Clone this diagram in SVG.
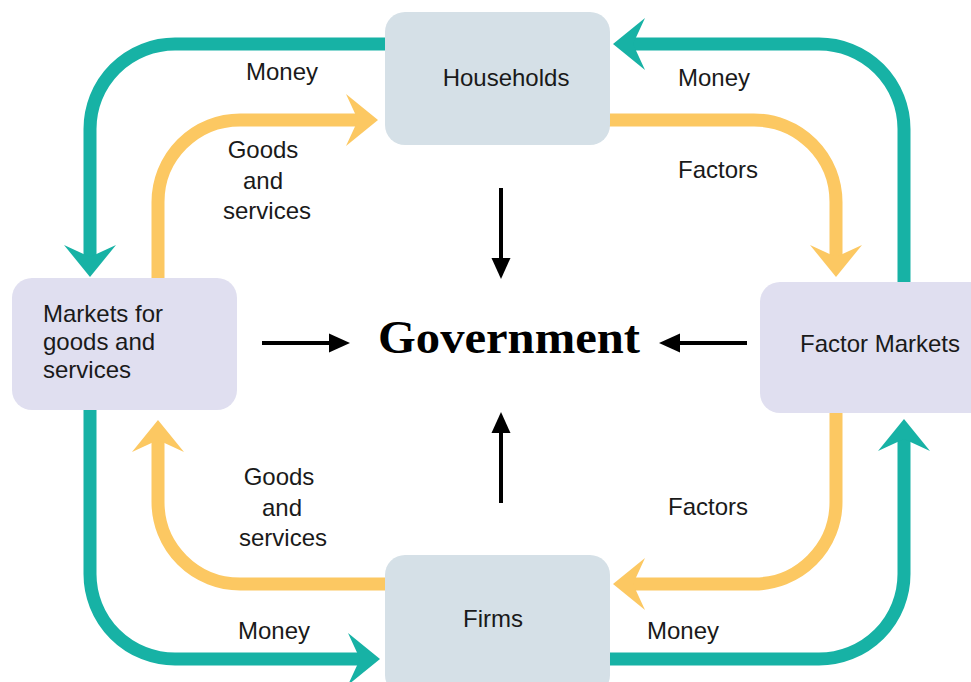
<svg xmlns="http://www.w3.org/2000/svg" width="971" height="682" viewBox="0 0 971 682">
<style>
.bg{fill:#ffffff}
.hh{fill:#d5e0e7}
.mk{fill:#e0dff0}
.lbl{font-family:"Liberation Sans",Arial,sans-serif;font-size:24px;fill:#1a1a1a}
.mid{text-anchor:middle}
.teal{fill:none;stroke:#17b2a5;stroke-width:13}
.yel{fill:none;stroke:#fcc862;stroke-width:13}
.blk{fill:none;stroke:#000;stroke-width:4}
.gov{font-family:"Liberation Serif","Times New Roman",serif;font-size:46px;font-weight:bold;fill:#000}
</style>
<defs>
<marker id="ht" markerUnits="userSpaceOnUse" markerWidth="40" markerHeight="60" refX="14" refY="30" orient="auto" overflow="visible">
<path d="M34,30 L2,4 L14,30 L2,56 Z" fill="#17b2a5"/>
</marker>
<marker id="hy" markerUnits="userSpaceOnUse" markerWidth="40" markerHeight="60" refX="14" refY="30" orient="auto" overflow="visible">
<path d="M34,30 L2,4 L14,30 L2,56 Z" fill="#fcc862"/>
</marker>
<marker id="hb" markerUnits="userSpaceOnUse" markerWidth="22" markerHeight="22" refX="2" refY="10" orient="auto" overflow="visible">
<path d="M21,10 L0,0.5 L0,19.5 Z" fill="#000"/>
</marker>
</defs>
<rect class="bg" x="0" y="0" width="971" height="682"/>
<g id="connectors">
<path class="teal" d="M390,44 H175 A85,85 0 0 0 90,129 V257" marker-end="url(#ht)"/>
<path class="teal" d="M904,287 V129 A85,85 0 0 0 819,44 H633" marker-end="url(#ht)"/>
<path class="teal" d="M90,406 V574 A85,85 0 0 0 175,659 H360" marker-end="url(#ht)"/>
<path class="teal" d="M604,659 H819 A85,85 0 0 0 904,574 V439" marker-end="url(#ht)"/>
<path class="yel" d="M158,282 V202 A82,82 0 0 1 240,120 H358" marker-end="url(#hy)"/>
<path class="yel" d="M604,120 H754 A82,82 0 0 1 836,202 V257" marker-end="url(#hy)"/>
<path class="yel" d="M390,584 H240 A82,82 0 0 1 158,502 V440" marker-end="url(#hy)"/>
<path class="yel" d="M836,409 V502 A82,82 0 0 1 754,584 H633" marker-end="url(#hy)"/>
<path class="blk" d="M501,188 V260" marker-end="url(#hb)"/>
<path class="blk" d="M501,503 V431" marker-end="url(#hb)"/>
<path class="blk" d="M262,343 H331" marker-end="url(#hb)"/>
<path class="blk" d="M747,343 H678" marker-end="url(#hb)"/>
</g>
<g id="households">
<rect class="hh" x="385" y="12" width="225" height="133" rx="20"/>
<text class="lbl mid" x="506" y="86">Households</text>
</g>
<g id="markets-goods">
<rect class="mk" x="12" y="278" width="225" height="132" rx="20"/>
<text class="lbl" x="43" y="322">Markets for</text>
<text class="lbl" x="43" y="350">goods and</text>
<text class="lbl" x="43" y="378">services</text>
</g>
<g id="factor-markets">
<rect class="mk" x="760" y="282" width="230" height="131" rx="20"/>
<text class="lbl" x="800" y="352">Factor Markets</text>
</g>
<g id="firms">
<rect class="hh" x="385" y="555" width="225" height="140" rx="20"/>
<text class="lbl mid" x="493" y="627">Firms</text>
</g>
<g id="government">
<text class="gov" x="378" y="353" textLength="262" lengthAdjust="spacingAndGlyphs">Government</text>
</g>
<g id="labels">
<text class="lbl mid" x="282" y="80">Money</text>
<text class="lbl mid" x="263" y="158">Goods</text>
<text class="lbl mid" x="263" y="189">and</text>
<text class="lbl mid" x="267" y="219">services</text>
<text class="lbl mid" x="714" y="86">Money</text>
<text class="lbl mid" x="718" y="178">Factors</text>
<text class="lbl mid" x="279" y="485">Goods</text>
<text class="lbl mid" x="282" y="516">and</text>
<text class="lbl mid" x="283" y="546">services</text>
<text class="lbl mid" x="274" y="639">Money</text>
<text class="lbl mid" x="708" y="515">Factors</text>
<text class="lbl mid" x="683" y="639">Money</text>
</g>
</svg>
